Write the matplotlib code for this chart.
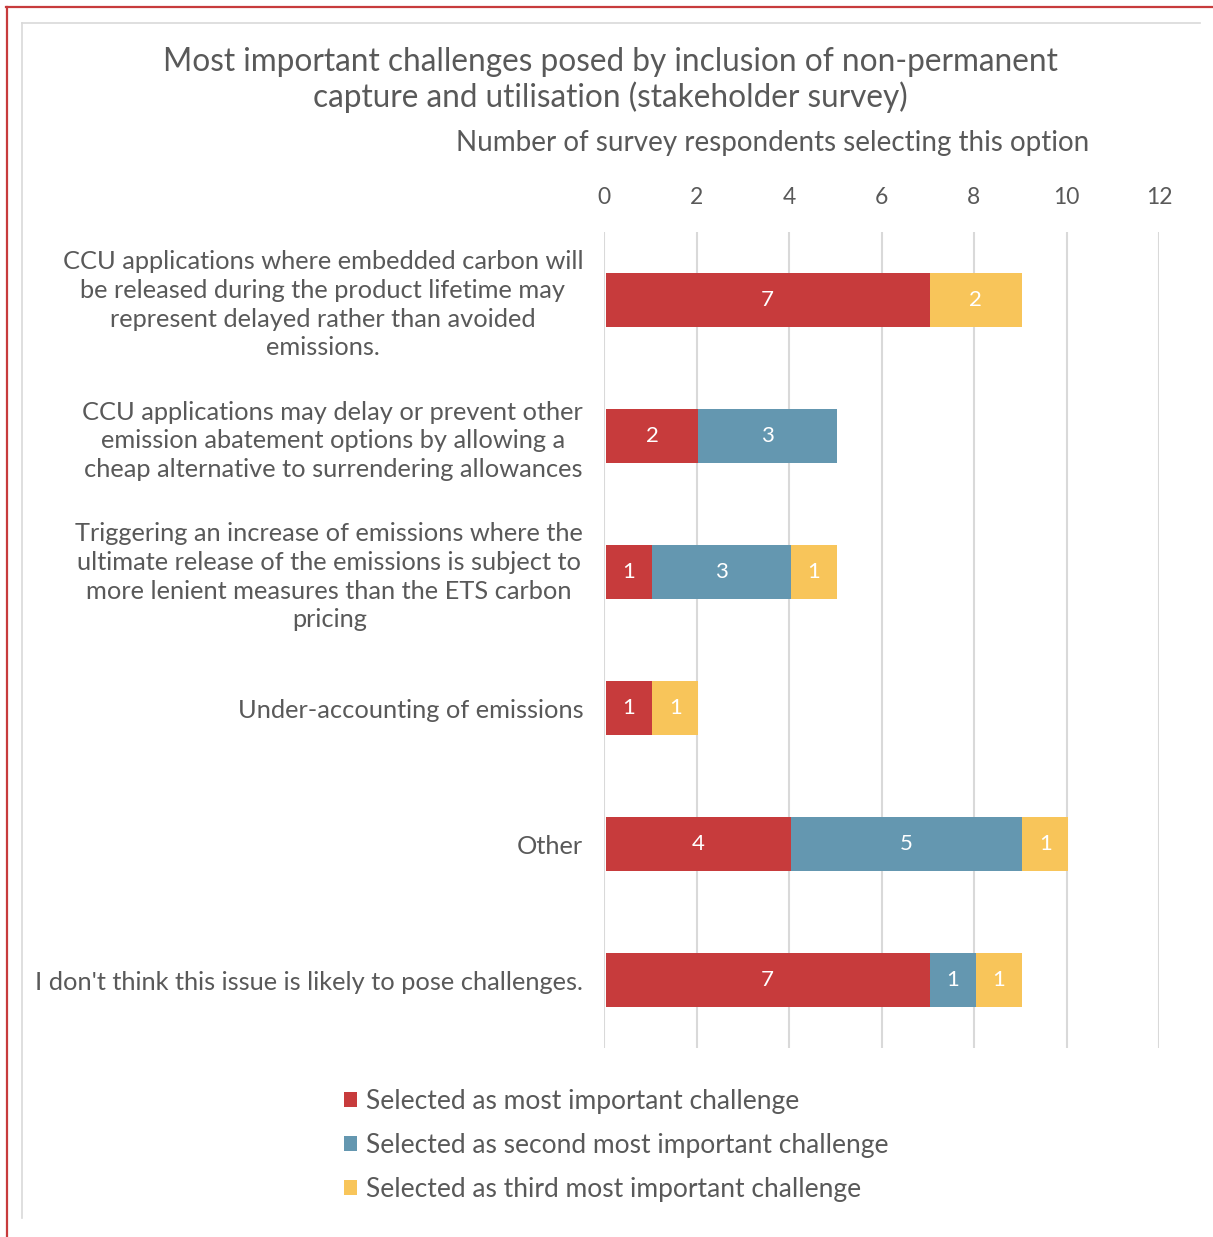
import matplotlib
matplotlib.use("Agg")
import matplotlib.pyplot as plt
from matplotlib.lines import Line2D
from matplotlib.patches import Patch
import numpy as np

plt.rcParams['font.family'] = ['Lato', 'DejaVu Sans']

categories = [
    "CCU applications where embedded carbon will\nbe released during the product lifetime may\nrepresent delayed rather than avoided\nemissions.",
    "CCU applications may delay or prevent other\nemission abatement options by allowing a\ncheap alternative to surrendering allowances",
    "Triggering an increase of emissions where the\nultimate release of the emissions is subject to\nmore lenient measures than the ETS carbon\npricing",
    "Under-accounting of emissions",
    "Other",
    "I don't think this issue is likely to pose challenges.",
]
most_important = [7, 2, 1, 1, 4, 7]
second_most = [0, 3, 3, 0, 5, 1]
third_most = [2, 0, 1, 1, 1, 1]
series_names = [
    "Selected as most important challenge",
    "Selected as second most important challenge",
    "Selected as third most important challenge",
]
x_ticks = [0, 2, 4, 6, 8, 10, 12]

colors = ["#C73B3C", "#6497B0", "#F8C55A"]
text_grey = "#595959"
grid_grey = "#D9D9D9"

W, H = 1213, 1237
fig = plt.figure(figsize=(W / 100, H / 100), dpi=100)

def fx(px):
    return px / W

def fy(py):
    return 1 - py / H

# outer report frame (red) and chart area border (grey)
fig.add_artist(Line2D([fx(6), 1.0], [fy(7), fy(7)], color="#C73B3C", lw=1.6))
fig.add_artist(Line2D([fx(7), fx(7)], [fy(7), 0.0], color="#C73B3C", lw=1.6))
fig.add_artist(Line2D([fx(22), fx(1200)], [fy(23), fy(23)], color=grid_grey, lw=1.2))
fig.add_artist(Line2D([fx(22), fx(22)], [fy(23), fy(1218)], color=grid_grey, lw=1.2))

ax = fig.add_axes([fx(604), fy(1048), fx(1159) - fx(604), fy(232) - fy(1048)])

y = np.arange(len(categories))
series = [most_important, second_most, third_most]
left = np.zeros(len(categories))
for vals, col in zip(series, colors):
    vals = np.array(vals, dtype=float)
    bars = ax.barh(y, vals, left=left + 0.04, height=0.4, color=col, zorder=3)
    for b, v in zip(bars, vals):
        if v > 0:
            ax.text(b.get_x() + b.get_width() / 2, b.get_y() + b.get_height() / 2,
                    f"{int(v)}", ha="center", va="center", color="white",
                    fontsize=16, zorder=4)
    left += vals

ax.set_xlim(0, 12)
ax.set_ylim(len(categories) - 0.5, -0.5)
ax.set_xticks(x_ticks)
ax.xaxis.tick_top()
ax.tick_params(axis="x", length=0, pad=17, labelsize=16.5, labelcolor=text_grey)
ax.set_yticks(y)
ax.set_yticklabels(categories, fontsize=18.3, color=text_grey,
                   multialignment="center", linespacing=1.3)
ax.tick_params(axis="y", length=0, pad=15)
for s in ax.spines.values():
    s.set_visible(False)
ax.grid(axis="x", color=grid_grey, lw=1.5, zorder=0)
ax.set_axisbelow(True)

fig.text(fx(610), fy(80),
         "Most important challenges posed by inclusion of non-permanent\ncapture and utilisation (stakeholder survey)",
         ha="center", va="center", fontsize=22.7, color=text_grey, linespacing=1.15)
fig.text(fx(773), fy(143), "Number of survey respondents selecting this option",
         ha="center", va="center", fontsize=20, color=text_grey)

handles = [Patch(facecolor=c, edgecolor="none") for c in colors]
fig.legend(handles, series_names, loc="upper left",
           bbox_to_anchor=(fx(320), fy(1065)), frameon=False,
           fontsize=19, labelcolor=text_grey, handlelength=0.5, handleheight=0.5,
           handletextpad=0.35, labelspacing=0.72)

fig.savefig("out.png", dpi=100)
